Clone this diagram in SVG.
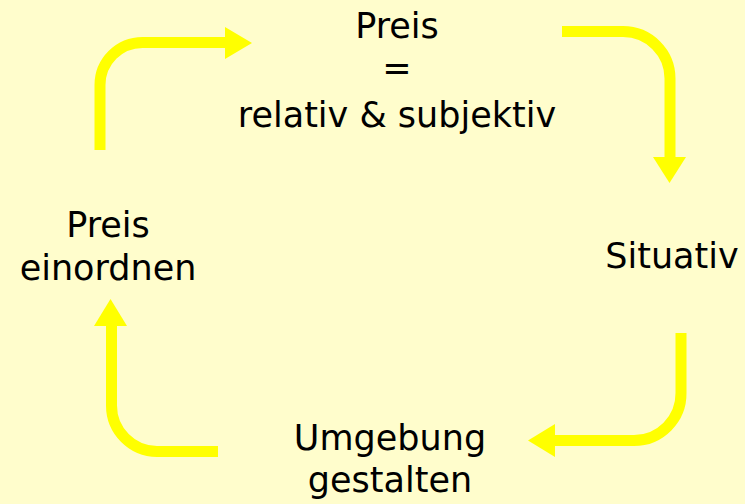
<svg xmlns="http://www.w3.org/2000/svg" width="745" height="504" viewBox="0 0 745 504">
<style>
.t{font-family:"DejaVu Sans","Noto Sans","Liberation Sans",sans-serif;font-size:35px;fill:#000;text-anchor:middle}
.c{fill:none;stroke:#FFFF00;stroke-width:11}
.h{fill:#FFFF00}
</style>
<rect width="745" height="504" fill="#FFFDCC"/>
<g id="connectors">
<path class="c" d="M100,150 V85 A42.5,42.5 0 0 1 142.5,42.5 H227"/>
<polygon class="h" points="225,27 252,43 225,59"/>
<path class="c" d="M562,31.5 H623 A47,47 0 0 1 670,78.5 V159"/>
<polygon class="h" points="653,157 686,157 669.5,183"/>
<path class="c" d="M681,333 V393 A47,47 0 0 1 634,440.5 H553"/>
<polygon class="h" points="555,424 528,440.5 555,457"/>
<path class="c" d="M218,451.5 H157 A46,46 0 0 1 111.5,405.5 V324"/>
<polygon class="h" points="94,326 127,326 110.5,299"/>
</g>
<g id="node-preis">
<text class="t" x="397" y="38">Preis</text>
<text class="t" x="397" y="80">=</text>
<text class="t" x="397" y="127">relativ &amp; subjektiv</text>
</g>
<g id="node-situativ">
<text class="t" x="672" y="268">Situativ</text>
</g>
<g id="node-umgebung">
<text class="t" x="390" y="450">Umgebung</text>
<text class="t" x="390" y="492">gestalten</text>
</g>
<g id="node-einordnen">
<text class="t" x="108" y="237">Preis</text>
<text class="t" x="108" y="280">einordnen</text>
</g>
</svg>
